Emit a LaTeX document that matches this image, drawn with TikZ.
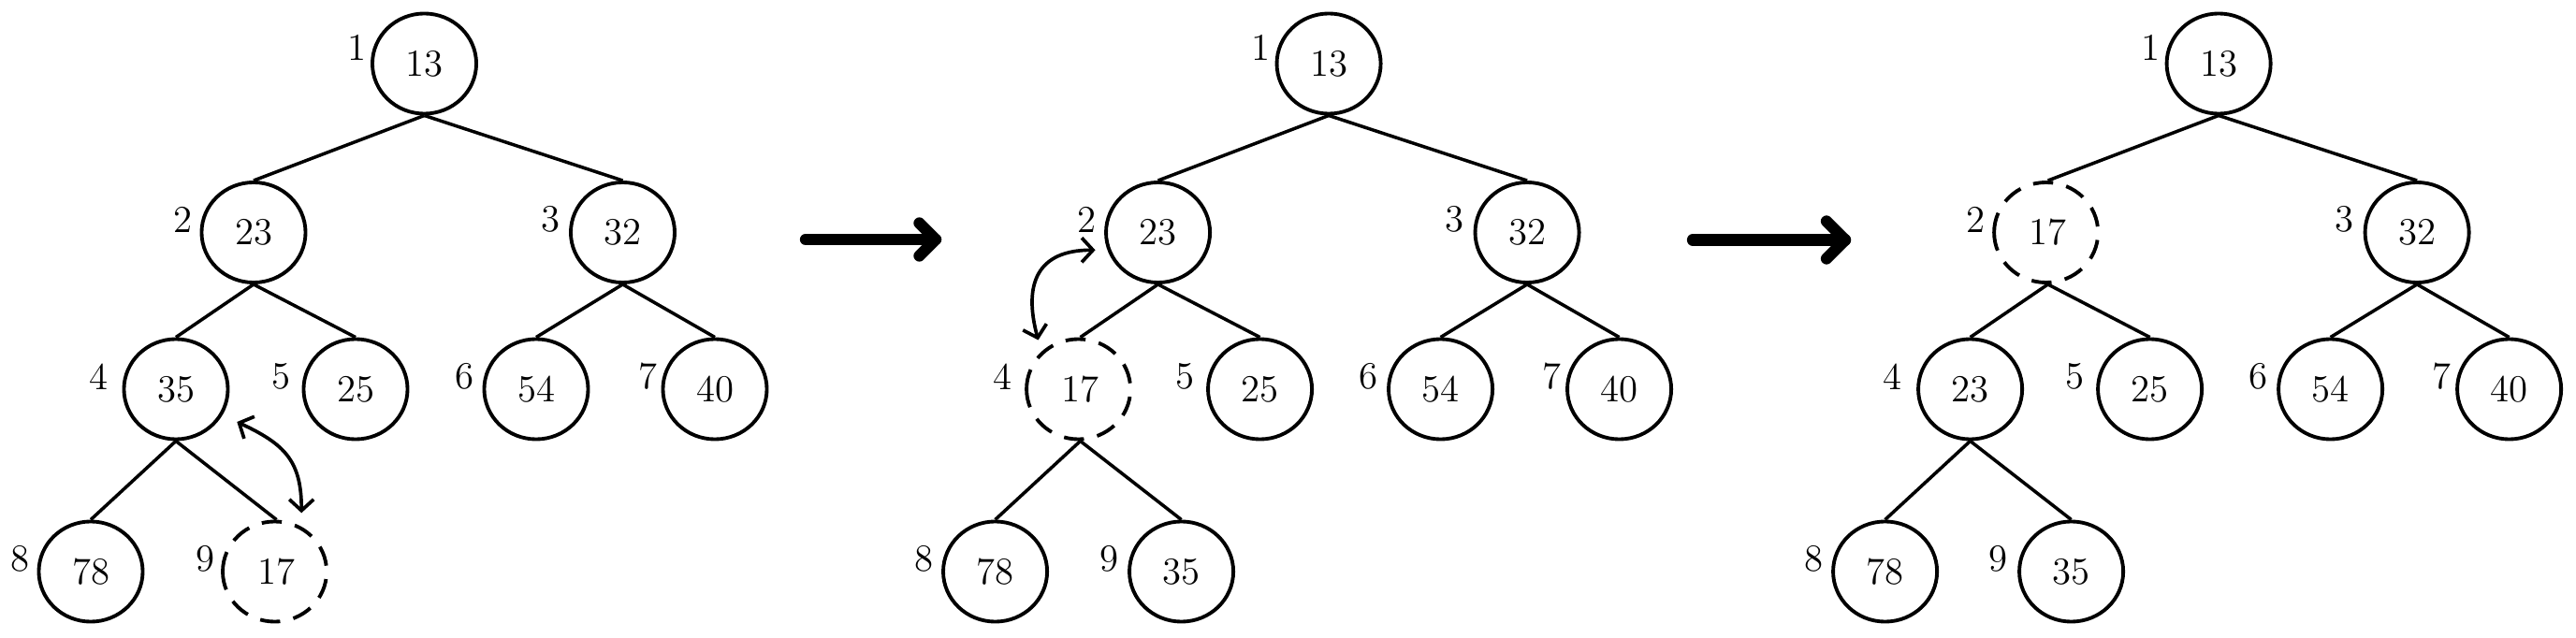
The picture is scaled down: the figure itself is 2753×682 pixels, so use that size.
\documentclass[tikz,border=0pt]{standalone}
\usetikzlibrary{arrows.meta,calc,shapes.geometric}
\begin{document}
\begin{tikzpicture}[x=0.01cm,y=-0.01cm,
  hnode/.style={ellipse, draw, line width=1.1pt, minimum width=1.11cm, minimum height=1.07cm, inner sep=0pt, font=\fontsize{11.6}{13}\selectfont},
  hdash/.style={hnode, draw=none},
  dashring/.style={line width=1.1pt, dash pattern=on 6.1pt off 4.1pt},
  idx/.style={inner sep=0pt, font=\fontsize{11.6}{13}\selectfont},
  edge/.style={line width=1pt},
  swaparrow/.style={line width=1.05pt, {Straight Barb[length=3.4pt,width=7.4pt]}-{Straight Barb[length=3.4pt,width=7.4pt]}},
  fat/.style={line width=3.5pt, line cap=round, line join=round}]
\useasboundingbox (0,0) rectangle (2753,682);

% ---------- tree 1 ----------
\begin{scope}
\node[hnode] (a1) at (453.5,68) {13};
\node[hnode] (a2) at (271,248.5) {23};
\node[hnode] (a3) at (665.5,248.5) {32};
\node[hnode] (a4) at (188,416) {35};
\node[hnode] (a5) at (380,416) {25};
\node[hnode] (a6) at (573,416) {54};
\node[hnode] (a7) at (764,416) {40};
\node[hnode] (a8) at (97,611) {78};
\node[hdash] (a9) at (295.5,611) {17};
\end{scope}
\draw[dashring] (a9.west) arc[start angle=180, end angle=-180, x radius=0.555cm, y radius=0.535cm];

% ---------- tree 2 ----------
\begin{scope}[xshift=9.66cm]
\node[hnode] (b1) at (453.5,68) {13};
\node[hnode] (b2) at (271,248.5) {23};
\node[hnode] (b3) at (665.5,248.5) {32};
\node[hdash] (b4) at (188,416) {17};
\node[hnode] (b5) at (380,416) {25};
\node[hnode] (b6) at (573,416) {54};
\node[hnode] (b7) at (764,416) {40};
\node[hnode] (b8) at (97,611) {78};
\node[hnode] (b9) at (296,611) {35};
\end{scope}
\draw[dashring] (b4.west) arc[start angle=180, end angle=-180, x radius=0.555cm, y radius=0.535cm];

% ---------- tree 3 ----------
\begin{scope}[xshift=19.165cm]
\node[hnode] (c1) at (453.5,68) {13};
\node[hdash] (c2) at (271,248.5) {17};
\node[hnode] (c3) at (665.5,248.5) {32};
\node[hnode] (c4) at (188,416) {23};
\node[hnode] (c5) at (380,416) {25};
\node[hnode] (c6) at (573,416) {54};
\node[hnode] (c7) at (764,416) {40};
\node[hnode] (c8) at (97,611) {78};
\node[hnode] (c9) at (296,611) {35};
\end{scope}
\draw[dashring] (c2.west) arc[start angle=180, end angle=-180, x radius=0.555cm, y radius=0.535cm];

% ---------- index labels and edges ----------
\foreach \t/\s in {a/0,b/966,c/1916.5} {
  \foreach \i/\x/\y in {1/381.7/51.3, 2/195/234.8, 3/588.6/234.8, 4/105.6/402.6, 5/300.5/402.6, 6/496.5/402.6, 7/692.5/402.6, 8/21.7/597.4, 9/219/597.4}
    \node[idx] (\t\i i) at (\x+\s,\y) {\i};
  \draw[edge] (\t1.south) -- (\t2.north);
  \draw[edge] (\t1.south) -- (\t3.north);
  \draw[edge] (\t2.south) -- (\t4.north);
  \draw[edge] (\t2.south) -- (\t5.north);
  \draw[edge] (\t3.south) -- (\t6.north);
  \draw[edge] (\t3.south) -- (\t7.north);
  \draw[edge] (\t4.south) -- (\t8.north);
  \draw[edge] (\t4.south) -- (\t9.north);
}

% ---------- swap arrows ----------
\coordinate (aS) at ($(a4)+(65.3,35)$);
\coordinate (aE) at ($(a9)+(26.7,-62.7)$);
\draw[swaparrow] (aS) to[out=-25,in=90,looseness=1.2] (aE);
\coordinate (bS) at ($(b4)+(-45,-52.5)$);
\coordinate (bE) at ($(b2)+(-67,18.8)$);
\draw[swaparrow] (bS) to[out=105,in=180,looseness=1.4] (bE);

% ---------- step arrows ----------
\coordinate (f1s) at (861,256);
\coordinate (f1e) at (1000,256);
\draw[fat] (f1s) -- (f1e);
\draw[fat] ($(f1e)+(-17.5,-17.5)$) -- (f1e) -- ($(f1e)+(-17.5,17.5)$);
\coordinate (f2s) at (1809,256.5);
\coordinate (f2e) at (1972,256.5);
\draw[fat] (f2s) -- (f2e);
\draw[fat] ($(f2e)+(-20,-20)$) -- (f2e) -- ($(f2e)+(-20,20)$);
\end{tikzpicture}
\end{document}
